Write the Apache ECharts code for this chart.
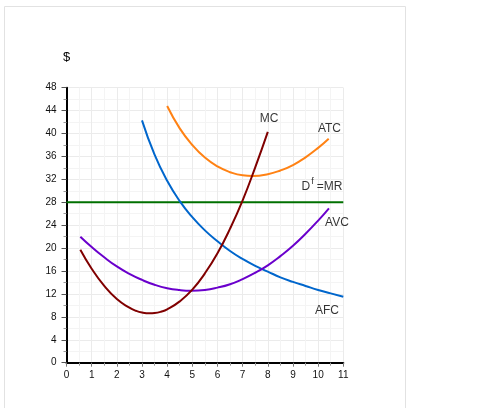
<!DOCTYPE html>
<html>
<head>
<meta charset="utf-8">
<script src="https://cdn.jsdelivr.net/npm/echarts@6/dist/echarts.min.js"></script>
<style>
  html, body { margin: 0; padding: 0; background: #fff; }
  #chart { width: 486px; height: 408px; }
</style>
</head>
<body>
<div id="chart"></div>
<script>
// quantity / cost pairs
var mcData = [[0.55,19.7],[1,16.4],[1.5,13.4],[2,11.1],[2.5,9.6],[2.75,9.07],[3,8.75],[3.31,8.61],[3.5,8.66],
  [3.75,8.89],[4,9.3],[4.5,10.7],[5,12.75],[5.5,15.6],[6,19.1],[6.5,23.4],[7,28.35],[7.5,34.1],[8,40.3]];
var avcData = [[0.55,22.0],[1,20.2],[1.5,18.4],[2,16.8],[2.5,15.5],[3,14.45],[3.5,13.6],[4,13.0],[4.5,12.68],
  [4.97,12.57],[5.5,12.7],[6,13.1],[6.5,13.7],[7,14.6],[7.5,15.7],[8,17.0],[8.5,18.6],[9,20.4],[9.5,22.5],
  [10,24.8],[10.43,26.95]];
var afcData = [[3.0,42.3],[3.5,36.3],[4,31.75],[4.5,28.2],[5,25.4],[5.5,23.1],[6,21.2],[6.5,19.5],[7,18.1],
  [7.5,16.9],[8,15.9],[8.5,14.9],[9,14.1],[9.5,13.4],[10,12.7],[10.5,12.1],[11,11.5]];
var atcData = [[4,44.8],[4.5,40.9],[5,38.0],[5.5,35.8],[6,34.25],[6.5,33.25],[7,32.7],[7.4,32.6],[8,32.9],
  [8.5,33.55],[9,34.5],[9.5,35.85],[10,37.5],[10.42,39.1]];
var priceLevel = 28;
var xRange = [0, 11];
var yRange = [0, 48];
// curve names and where they sit (data units)
var curveLabels = [
  { name: 'MC', value: [8.05, 42.6] },
  { name: 'ATC', value: [10.45, 40.9] },
  { name: 'DMR', value: [10.15, 30.8] },
  { name: 'AVC', value: [10.75, 24.4] },
  { name: 'AFC', value: [10.35, 9.0] }
];

var myChart = echarts.init(document.getElementById('chart'));

function curve(name, data, color) {
  return {
    name: name,
    type: 'line',
    data: data,
    smooth: true,
    showSymbol: false,
    lineStyle: { color: color, width: 2 },
    z: 3
  };
}

var option = {
  animation: false,
  backgroundColor: '#fff',
  textStyle: { fontFamily: 'Liberation Sans, Arial, sans-serif' },
  graphic: [{
    type: 'rect',
    shape: { x: 4.5, y: 6.5, width: 401, height: 420 },
    style: { fill: 'none', stroke: '#e2e2e2', lineWidth: 1 },
    silent: true
  }],
  grid: { left: 66.5, right: 142.7, top: 87.7, bottom: 45.3 },
  xAxis: {
    type: 'value',
    min: xRange[0], max: xRange[1], interval: 1,
    axisLine: { show: true, onZero: false, lineStyle: { color: '#000', width: 2 } },
    axisTick: { show: true, length: 4, lineStyle: { color: '#777' } },
    minorTick: { show: true, splitNumber: 2, length: 3, lineStyle: { color: '#999' } },
    axisLabel: { color: '#111', fontSize: 10, margin: 8 },
    splitLine: { show: true, lineStyle: { color: '#ebebeb' } },
    minorSplitLine: { show: true, lineStyle: { color: '#f4f4f4' } }
  },
  yAxis: {
    type: 'value',
    name: '$',
    nameLocation: 'end',
    nameGap: 24,
    nameTextStyle: { color: '#000', fontSize: 13, align: 'center' },
    min: yRange[0], max: yRange[1], interval: 4,
    axisLine: { show: true, onZero: false, lineStyle: { color: '#000', width: 2 } },
    axisTick: { show: true, length: 5, lineStyle: { color: '#555' } },
    minorTick: { show: true, splitNumber: 2, length: 3, lineStyle: { color: '#999' } },
    axisLabel: { color: '#111', fontSize: 10, margin: 10 },
    splitLine: { show: true, lineStyle: { color: '#ebebeb' } },
    minorSplitLine: { show: true, lineStyle: { color: '#f4f4f4' } }
  },
  series: [
    curve('AFC', afcData, '#0066cc'),
    curve('AVC', avcData, '#6a00cc'),
    curve('ATC', atcData, '#ff8214'),
    curve('MC', mcData, '#800000'),
    {
      name: 'D=MR',
      type: 'line',
      data: [[xRange[0], priceLevel], [xRange[1], priceLevel]],
      showSymbol: false,
      lineStyle: { color: '#007000', width: 2 },
      z: 2
    },
    {
      name: 'labels',
      type: 'scatter',
      data: curveLabels,
      symbolSize: 0,
      silent: true,
      label: {
        show: true,
        position: 'inside',
        color: '#000',
        fontSize: 12,
        formatter: function (p) {
          if (p.name === 'DMR') return '{n|D}{s|f}{n|=MR}';
          return p.name;
        },
        rich: {
          n: { fontSize: 12, color: '#000' },
          s: { fontSize: 9, color: '#000', padding: [0, 3, 9, 1] }
        }
      }
    }
  ]
};

myChart.setOption(option);
window.addEventListener('resize', function () {
  myChart.resize();
});
</script>
</body>
</html>
